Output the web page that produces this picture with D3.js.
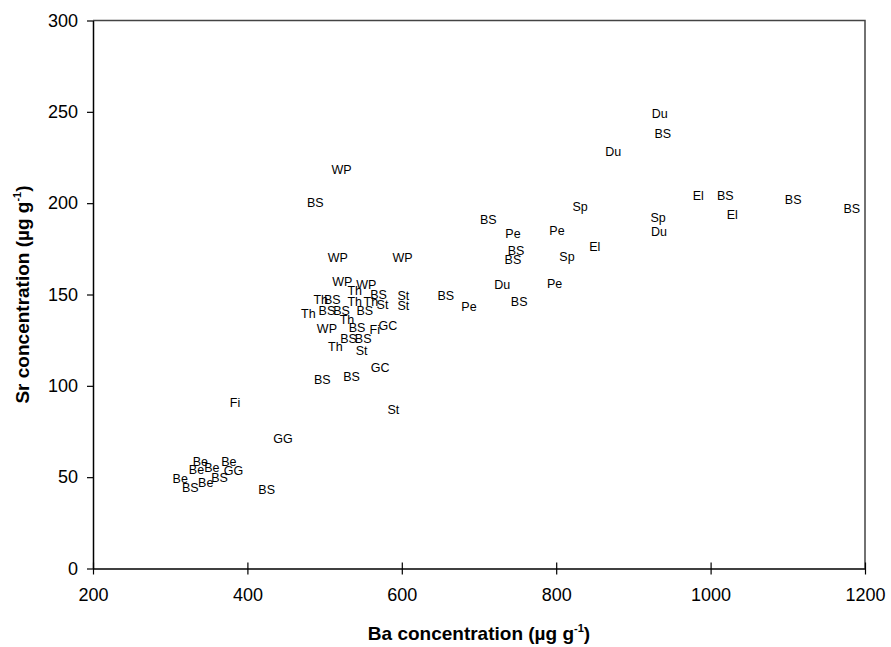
<!DOCTYPE html>
<html>
<head>
<meta charset="utf-8">
<script src="https://cdn.jsdelivr.net/npm/d3@7"></script>
<style>
  body { margin: 0; background: #fff; }
  svg text { font-family: "Liberation Sans", Arial, sans-serif; }
</style>
</head>
<body>
<div id="chart"></div>
<script>
// sample labels, Ba and Sr concentrations (ug/g)
var labels = ["WP","BS","WP","WP","WP","WP","Th","BS","Th","BS",
              "Th","Th","St","St","St","Th","BS","BS","BS","Th",
              "WP","BS","Fi","GC","BS","BS","Th","St","GC","BS",
              "BS","St","Fi","GG","Be","Be","Be","Be","GG","Be",
              "BS","BS","Be","BS","BS","Pe","BS","Pe","BS","BS",
              "Du","BS","Sp","Pe","El","Sp","Pe","Du","Du","BS",
              "Sp","Du","El","BS","El","BS","BS"];
var ba = [522,488,517,601,523,554,539,570,495,510,
          539,560,575,602,602,479,503,522,552,529,
          503,542,565,582,531,550,514,548,572,535,
          497,589,384,446,339,376,334,354,382,313,
          364,326,346,425,657,687,712,744,748,744,
          730,752,831,801,850,814,798,874,934,938,
          932,933,984,1019,1028,1107,1183];
var sr = [218,200,170,170,157,155,152,150,147,147,
          146,146,144,149,143.5,139.5,141,141,141,136,
          131,131.5,130.5,133,125.6,125.6,121.4,119,110,105,
          103,87,90.6,71,58.5,58.5,54,55,53.5,49,
          49.4,44,46.6,43,149,143,191,183,174,169,
          155,146,198,185,176,170.5,156,228,249,238,
          192,184,204,204,193.5,202,197];
var xTicks = [200,400,600,800,1000,1200];
var yTicks = [0,50,100,150,200,250,300];

var W = 891, H = 647;
var m = {left: 93, right: 26, top: 20.5, bottom: 78.5};

var svg = d3.select("#chart").append("svg")
    .attr("width", W)
    .attr("height", H);

var x = d3.scaleLinear().domain([200,1200]).range([m.left, W - m.right]);
var y = d3.scaleLinear().domain([0,300]).range([H - m.bottom, m.top]);

// frame on top and right
svg.append("path")
    .attr("d", "M" + x(200) + "," + y(300) + "H" + x(1200) + "V" + y(0))
    .attr("fill", "none")
    .attr("stroke", "#444")
    .attr("stroke-width", 1.5);

// x axis
var gx = svg.append("g")
    .attr("transform", "translate(0," + y(0) + ")")
    .call(d3.axisBottom(x).tickValues(xTicks).tickFormat(d3.format("d"))
      .tickSize(6).tickPadding(14).tickSizeOuter(0));
gx.selectAll(".tick line").attr("y1", -6).attr("y2", 6);

// y axis
var gy = svg.append("g")
    .attr("transform", "translate(" + x(200) + ",0)")
    .call(d3.axisLeft(y).tickValues(yTicks).tickFormat(d3.format("d"))
      .tickSize(6).tickPadding(9).tickSizeOuter(0));

[gx, gy].forEach(function(g){
  g.select(".domain").attr("stroke", "#000").attr("stroke-width", 1.5);
  g.selectAll(".tick line").attr("stroke", "#000").attr("stroke-width", 1.2);
  g.selectAll(".tick text")
    .attr("fill", "#000")
    .style("font-size", "18px")
    .style("font-family", "'Liberation Sans', Arial, sans-serif");
});

// data labels
svg.append("g").selectAll("text")
    .data(labels)
    .join("text")
    .attr("x", function(d, i){ return x(ba[i]); })
    .attr("y", function(d, i){ return y(sr[i]); })
    .attr("text-anchor", "middle")
    .attr("dominant-baseline", "central")
    .style("font-size", "12.5px")
    .attr("fill", "#000")
    .text(function(d){ return d; });

// axis titles
var xt = svg.append("text")
    .attr("x", (x(200) + x(1200)) / 2)
    .attr("y", 640)
    .attr("text-anchor", "middle")
    .style("font-size", "19px")
    .style("font-weight", "bold")
    .text("Ba concentration (\u00b5g g");
xt.append("tspan").attr("dy", -8).style("font-size", "11px").text("-1");
xt.append("tspan").attr("dy", 8).text(")");

var yt = svg.append("text")
    .attr("transform", "translate(29," + (y(0) + y(300)) / 2 + ") rotate(-90)")
    .attr("text-anchor", "middle")
    .style("font-size", "19px")
    .style("font-weight", "bold")
    .text("Sr concentration (\u00b5g g");
yt.append("tspan").attr("dy", -8).style("font-size", "11px").text("-1");
yt.append("tspan").attr("dy", 8).text(")");
</script>
</body>
</html>
